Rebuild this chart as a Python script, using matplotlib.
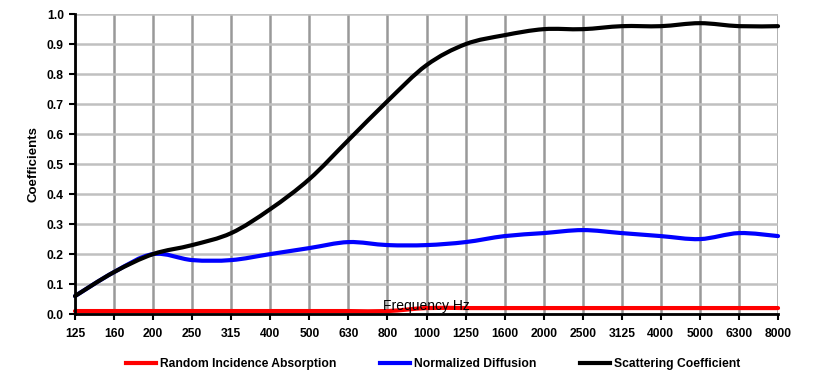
import matplotlib
matplotlib.use('Agg')
import matplotlib.pyplot as plt
from matplotlib.path import Path
from matplotlib.patches import PathPatch
from matplotlib.lines import Line2D

plt.rcParams['font.family'] = ['Liberation Sans', 'DejaVu Sans']

# Datos
frequencies = ['125', '160', '200', '250', '315', '400', '500', '630', '800',
               '1000', '1250', '1600', '2000', '2500', '3125', '4000', '5000',
               '6300', '8000']
absorption = [0.01, 0.01, 0.01, 0.01, 0.01, 0.01, 0.01, 0.01, 0.01,
              0.02, 0.02, 0.02, 0.02, 0.02, 0.02, 0.02, 0.02, 0.02, 0.02]
diffusion = [0.06, 0.14, 0.20, 0.18, 0.18, 0.20, 0.22, 0.24, 0.23,
             0.23, 0.24, 0.26, 0.27, 0.28, 0.27, 0.26, 0.25, 0.27, 0.26]
scattering = [0.06, 0.14, 0.20, 0.23, 0.27, 0.35, 0.45, 0.58, 0.71,
              0.83, 0.90, 0.93, 0.95, 0.95, 0.96, 0.96, 0.97, 0.96, 0.96]


def smooth_path(xs, ys):
    """Curva suavizada tipo Excel (Catmull-Rom como Bézier cúbica)."""
    pts = list(zip(xs, ys))
    verts = [pts[0]]
    codes = [Path.MOVETO]
    n = len(pts)
    for i in range(n - 1):
        p0 = pts[i - 1] if i > 0 else pts[i]
        p1 = pts[i]
        p2 = pts[i + 1]
        p3 = pts[i + 2] if i + 2 < n else pts[i + 1]
        c1 = (p1[0] + (p2[0] - p0[0]) / 6, p1[1] + (p2[1] - p0[1]) / 6)
        c2 = (p2[0] - (p3[0] - p1[0]) / 6, p2[1] - (p3[1] - p1[1]) / 6)
        verts += [c1, c2, p2]
        codes += [Path.CURVE4] * 3
    return Path(verts, codes)


fig = plt.figure(figsize=(8.17, 3.83), dpi=100)
ax = fig.add_axes([0.0918, 0.180, 0.8605, 0.783])

x = list(range(len(frequencies)))
series = [
    (absorption, '#ff0000', 'Random Incidence Absorption'),
    (diffusion, '#0000ff', 'Normalized Diffusion'),
    (scattering, '#000000', 'Scattering Coefficient'),
]
handles = []
for values, color, label in series:
    patch = PathPatch(smooth_path(x, values), facecolor='none', edgecolor=color,
                      linewidth=3.0, capstyle='round', joinstyle='round', zorder=3)
    patch.set_clip_on(False)
    ax.add_patch(patch)
    handles.append(Line2D([], [], color=color, linewidth=3.0, label=label))

ax.set_xlim(0, len(frequencies) - 1)
ax.set_ylim(0, 1.0)
ax.set_xticks(x)
ax.set_xticklabels(frequencies)
ax.set_yticks([i / 10 for i in range(11)])
ax.set_yticklabels([f'{i / 10:.1f}' for i in range(11)])

ax.xaxis.grid(True, color='#999999', linewidth=1.8)
ax.yaxis.grid(True, color='#c0c0c0', linewidth=1.8)
ax.set_axisbelow(True)

for side in ['top', 'right']:
    ax.spines[side].set_visible(False)
for side in ['left', 'bottom']:
    ax.spines[side].set_linewidth(2.0)
    ax.spines[side].set_color('black')
    ax.spines[side].set_zorder(4)

ax.tick_params(axis='both', direction='out', length=4, width=1.5,
               labelsize=8.7, pad=4)
ax.tick_params(axis='x', pad=6)
for lbl in ax.get_xticklabels() + ax.get_yticklabels():
    lbl.set_fontweight('bold')

ax.set_ylabel('Coefficients', fontsize=9.5, fontweight='bold', labelpad=5)
ax.text(0.5, 0.005, 'Frequency Hz', transform=ax.transAxes, ha='center',
        va='bottom', fontsize=10, zorder=5)

fig.legend(handles=handles, loc='center', bbox_to_anchor=(0.53, 0.05),
           ncol=3, frameon=False, handlelength=2.5, handletextpad=0.3,
           columnspacing=3.6, prop={'size': 8.7, 'weight': 'bold'})

fig.savefig('out.png', dpi=100)
plt.close(fig)
